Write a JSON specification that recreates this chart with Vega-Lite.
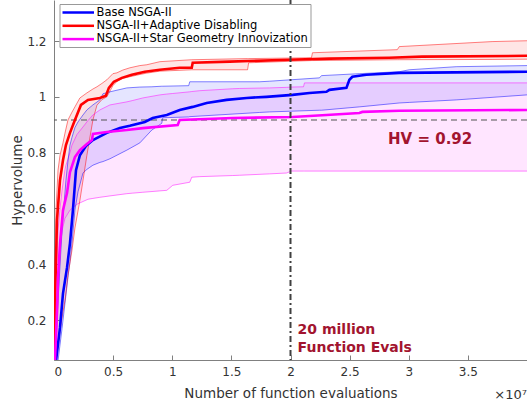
{
  "$schema": "https://vega.github.io/schema/vega-lite/v6.json",
  "width": 473,
  "height": 360,
  "autosize": {"type": "none"},
  "padding": {"left": 54, "top": 0, "right": 0, "bottom": 47},
  "datasets": {
    "mean": [
      {"method": "NSGA-II+Adaptive Disabling", "evals_M": 0, "hv": 0.03},
      {"method": "NSGA-II+Adaptive Disabling", "evals_M": 0.084, "hv": 0.27},
      {"method": "NSGA-II+Adaptive Disabling", "evals_M": 0.253, "hv": 0.558},
      {"method": "NSGA-II+Adaptive Disabling", "evals_M": 0.506, "hv": 0.701},
      {"method": "NSGA-II+Adaptive Disabling", "evals_M": 0.759, "hv": 0.773},
      {"method": "NSGA-II+Adaptive Disabling", "evals_M": 1.01, "hv": 0.827},
      {"method": "NSGA-II+Adaptive Disabling", "evals_M": 1.35, "hv": 0.871},
      {"method": "NSGA-II+Adaptive Disabling", "evals_M": 1.77, "hv": 0.917},
      {"method": "NSGA-II+Adaptive Disabling", "evals_M": 2.28, "hv": 0.971},
      {"method": "NSGA-II+Adaptive Disabling", "evals_M": 2.87, "hv": 0.989},
      {"method": "NSGA-II+Adaptive Disabling", "evals_M": 3.88, "hv": 0.996},
      {"method": "NSGA-II+Adaptive Disabling", "evals_M": 4.39, "hv": 1.004},
      {"method": "NSGA-II+Adaptive Disabling", "evals_M": 4.64, "hv": 1.032},
      {"method": "NSGA-II+Adaptive Disabling", "evals_M": 5.06, "hv": 1.054},
      {"method": "NSGA-II+Adaptive Disabling", "evals_M": 5.74, "hv": 1.068},
      {"method": "NSGA-II+Adaptive Disabling", "evals_M": 6.58, "hv": 1.079},
      {"method": "NSGA-II+Adaptive Disabling", "evals_M": 7.68, "hv": 1.09},
      {"method": "NSGA-II+Adaptive Disabling", "evals_M": 8.95, "hv": 1.097},
      {"method": "NSGA-II+Adaptive Disabling", "evals_M": 10.63, "hv": 1.104},
      {"method": "NSGA-II+Adaptive Disabling", "evals_M": 11.65, "hv": 1.104},
      {"method": "NSGA-II+Adaptive Disabling", "evals_M": 11.73, "hv": 1.122},
      {"method": "NSGA-II+Adaptive Disabling", "evals_M": 14.85, "hv": 1.126},
      {"method": "NSGA-II+Adaptive Disabling", "evals_M": 19.92, "hv": 1.133},
      {"method": "NSGA-II+Adaptive Disabling", "evals_M": 23.29, "hv": 1.137},
      {"method": "NSGA-II+Adaptive Disabling", "evals_M": 28.35, "hv": 1.14},
      {"method": "NSGA-II+Adaptive Disabling", "evals_M": 31.14, "hv": 1.144},
      {"method": "NSGA-II+Adaptive Disabling", "evals_M": 40, "hv": 1.147},
      {"method": "Base NSGA-II", "evals_M": 0, "hv": 0.0},
      {"method": "Base NSGA-II", "evals_M": 0.17, "hv": 0.054},
      {"method": "Base NSGA-II", "evals_M": 0.506, "hv": 0.173},
      {"method": "Base NSGA-II", "evals_M": 0.759, "hv": 0.295},
      {"method": "Base NSGA-II", "evals_M": 1.1, "hv": 0.388},
      {"method": "Base NSGA-II", "evals_M": 1.35, "hv": 0.475},
      {"method": "Base NSGA-II", "evals_M": 1.6, "hv": 0.594},
      {"method": "Base NSGA-II", "evals_M": 1.86, "hv": 0.737},
      {"method": "Base NSGA-II", "evals_M": 2.19, "hv": 0.791},
      {"method": "Base NSGA-II", "evals_M": 2.7, "hv": 0.824},
      {"method": "Base NSGA-II", "evals_M": 3.29, "hv": 0.845},
      {"method": "Base NSGA-II", "evals_M": 4.47, "hv": 0.871},
      {"method": "Base NSGA-II", "evals_M": 5.57, "hv": 0.888},
      {"method": "Base NSGA-II", "evals_M": 6.41, "hv": 0.896},
      {"method": "Base NSGA-II", "evals_M": 7.68, "hv": 0.91},
      {"method": "Base NSGA-II", "evals_M": 8.35, "hv": 0.924},
      {"method": "Base NSGA-II", "evals_M": 9.54, "hv": 0.935},
      {"method": "Base NSGA-II", "evals_M": 10.63, "hv": 0.953},
      {"method": "Base NSGA-II", "evals_M": 11.73, "hv": 0.964},
      {"method": "Base NSGA-II", "evals_M": 12.91, "hv": 0.978},
      {"method": "Base NSGA-II", "evals_M": 14.6, "hv": 0.989},
      {"method": "Base NSGA-II", "evals_M": 16.29, "hv": 0.996},
      {"method": "Base NSGA-II", "evals_M": 17.97, "hv": 1.0},
      {"method": "Base NSGA-II", "evals_M": 20.17, "hv": 1.007},
      {"method": "Base NSGA-II", "evals_M": 21.6, "hv": 1.014},
      {"method": "Base NSGA-II", "evals_M": 23.04, "hv": 1.018},
      {"method": "Base NSGA-II", "evals_M": 23.29, "hv": 1.025},
      {"method": "Base NSGA-II", "evals_M": 24.73, "hv": 1.032},
      {"method": "Base NSGA-II", "evals_M": 24.98, "hv": 1.061},
      {"method": "Base NSGA-II", "evals_M": 25.23, "hv": 1.072},
      {"method": "Base NSGA-II", "evals_M": 26.41, "hv": 1.079},
      {"method": "Base NSGA-II", "evals_M": 29.2, "hv": 1.086},
      {"method": "Base NSGA-II", "evals_M": 40, "hv": 1.09},
      {"method": "NSGA-II+Star Geometry Innovization", "evals_M": 0, "hv": 0.0},
      {"method": "NSGA-II+Star Geometry Innovization", "evals_M": 0.08, "hv": 0.054},
      {"method": "NSGA-II+Star Geometry Innovization", "evals_M": 0.25, "hv": 0.234},
      {"method": "NSGA-II+Star Geometry Innovization", "evals_M": 0.34, "hv": 0.353},
      {"method": "NSGA-II+Star Geometry Innovization", "evals_M": 0.51, "hv": 0.475},
      {"method": "NSGA-II+Star Geometry Innovization", "evals_M": 0.76, "hv": 0.594},
      {"method": "NSGA-II+Star Geometry Innovization", "evals_M": 1.1, "hv": 0.655},
      {"method": "NSGA-II+Star Geometry Innovization", "evals_M": 1.35, "hv": 0.73},
      {"method": "NSGA-II+Star Geometry Innovization", "evals_M": 1.77, "hv": 0.784},
      {"method": "NSGA-II+Star Geometry Innovization", "evals_M": 2.19, "hv": 0.809},
      {"method": "NSGA-II+Star Geometry Innovization", "evals_M": 2.78, "hv": 0.831},
      {"method": "NSGA-II+Star Geometry Innovization", "evals_M": 3.21, "hv": 0.845},
      {"method": "NSGA-II+Star Geometry Innovization", "evals_M": 3.29, "hv": 0.867},
      {"method": "NSGA-II+Star Geometry Innovization", "evals_M": 4.47, "hv": 0.874},
      {"method": "NSGA-II+Star Geometry Innovization", "evals_M": 6.16, "hv": 0.881},
      {"method": "NSGA-II+Star Geometry Innovization", "evals_M": 7.51, "hv": 0.888},
      {"method": "NSGA-II+Star Geometry Innovization", "evals_M": 10.46, "hv": 0.899},
      {"method": "NSGA-II+Star Geometry Innovization", "evals_M": 10.63, "hv": 0.917},
      {"method": "NSGA-II+Star Geometry Innovization", "evals_M": 15.11, "hv": 0.924},
      {"method": "NSGA-II+Star Geometry Innovization", "evals_M": 20.17, "hv": 0.928},
      {"method": "NSGA-II+Star Geometry Innovization", "evals_M": 23.04, "hv": 0.935},
      {"method": "NSGA-II+Star Geometry Innovization", "evals_M": 25.82, "hv": 0.942},
      {"method": "NSGA-II+Star Geometry Innovization", "evals_M": 26.08, "hv": 0.946},
      {"method": "NSGA-II+Star Geometry Innovization", "evals_M": 29.2, "hv": 0.95},
      {"method": "NSGA-II+Star Geometry Innovization", "evals_M": 40, "hv": 0.953}
    ],
    "band": [
      {"method": "NSGA-II+Star Geometry Innovization", "evals_M": 0, "lo": 0.0, "hi": 0.02},
      {"method": "NSGA-II+Star Geometry Innovization", "evals_M": 0.17, "lo": 0.06, "hi": 0.306},
      {"method": "NSGA-II+Star Geometry Innovization", "evals_M": 0.34, "lo": 0.25, "hi": 0.522},
      {"method": "NSGA-II+Star Geometry Innovization", "evals_M": 0.51, "lo": 0.44, "hi": 0.6},
      {"method": "NSGA-II+Star Geometry Innovization", "evals_M": 0.68, "lo": 0.52, "hi": 0.665},
      {"method": "NSGA-II+Star Geometry Innovization", "evals_M": 0.93, "lo": 0.565, "hi": 0.74},
      {"method": "NSGA-II+Star Geometry Innovization", "evals_M": 1.01, "lo": 0.57, "hi": 0.755},
      {"method": "NSGA-II+Star Geometry Innovization", "evals_M": 1.35, "lo": 0.594, "hi": 0.8},
      {"method": "NSGA-II+Star Geometry Innovization", "evals_M": 1.52, "lo": 0.6, "hi": 0.827},
      {"method": "NSGA-II+Star Geometry Innovization", "evals_M": 1.94, "lo": 0.615, "hi": 0.865},
      {"method": "NSGA-II+Star Geometry Innovization", "evals_M": 2.45, "lo": 0.625, "hi": 0.892},
      {"method": "NSGA-II+Star Geometry Innovization", "evals_M": 2.87, "lo": 0.633, "hi": 0.915},
      {"method": "NSGA-II+Star Geometry Innovization", "evals_M": 3.29, "lo": 0.636, "hi": 0.935},
      {"method": "NSGA-II+Star Geometry Innovization", "evals_M": 3.88, "lo": 0.64, "hi": 0.953},
      {"method": "NSGA-II+Star Geometry Innovization", "evals_M": 4.73, "lo": 0.645, "hi": 0.971},
      {"method": "NSGA-II+Star Geometry Innovization", "evals_M": 6.16, "lo": 0.653, "hi": 0.982},
      {"method": "NSGA-II+Star Geometry Innovization", "evals_M": 6.67, "lo": 0.655, "hi": 0.987},
      {"method": "NSGA-II+Star Geometry Innovization", "evals_M": 7.51, "lo": 0.658, "hi": 0.996},
      {"method": "NSGA-II+Star Geometry Innovization", "evals_M": 8.95, "lo": 0.663, "hi": 1.007},
      {"method": "NSGA-II+Star Geometry Innovization", "evals_M": 9.54, "lo": 0.665, "hi": 1.01},
      {"method": "NSGA-II+Star Geometry Innovization", "evals_M": 10.04, "lo": 0.683, "hi": 1.012},
      {"method": "NSGA-II+Star Geometry Innovization", "evals_M": 11.48, "lo": 0.694, "hi": 1.018},
      {"method": "NSGA-II+Star Geometry Innovization", "evals_M": 11.65, "lo": 0.712, "hi": 1.019},
      {"method": "NSGA-II+Star Geometry Innovization", "evals_M": 12.32, "lo": 0.714, "hi": 1.022},
      {"method": "NSGA-II+Star Geometry Innovization", "evals_M": 15.11, "lo": 0.718, "hi": 1.029},
      {"method": "NSGA-II+Star Geometry Innovization", "evals_M": 15.7, "lo": 0.719, "hi": 1.03},
      {"method": "NSGA-II+Star Geometry Innovization", "evals_M": 18.23, "lo": 0.724, "hi": 1.032},
      {"method": "NSGA-II+Star Geometry Innovization", "evals_M": 19.66, "lo": 0.727, "hi": 1.034},
      {"method": "NSGA-II+Star Geometry Innovization", "evals_M": 20.08, "lo": 0.734, "hi": 1.035},
      {"method": "NSGA-II+Star Geometry Innovization", "evals_M": 21.1, "lo": 0.734, "hi": 1.036},
      {"method": "NSGA-II+Star Geometry Innovization", "evals_M": 21.18, "lo": 0.734, "hi": 1.05},
      {"method": "NSGA-II+Star Geometry Innovization", "evals_M": 40, "lo": 0.734, "hi": 1.05},
      {"method": "Base NSGA-II", "evals_M": 0, "lo": 0.0, "hi": 0.0},
      {"method": "Base NSGA-II", "evals_M": 0.34, "lo": 0.054, "hi": 0.27},
      {"method": "Base NSGA-II", "evals_M": 0.68, "lo": 0.17, "hi": 0.522},
      {"method": "Base NSGA-II", "evals_M": 1.01, "lo": 0.29, "hi": 0.701},
      {"method": "Base NSGA-II", "evals_M": 1.18, "lo": 0.353, "hi": 0.77},
      {"method": "Base NSGA-II", "evals_M": 1.35, "lo": 0.41, "hi": 0.827},
      {"method": "Base NSGA-II", "evals_M": 1.52, "lo": 0.475, "hi": 0.855},
      {"method": "Base NSGA-II", "evals_M": 1.77, "lo": 0.594, "hi": 0.89},
      {"method": "Base NSGA-II", "evals_M": 2.03, "lo": 0.66, "hi": 0.91},
      {"method": "Base NSGA-II", "evals_M": 2.45, "lo": 0.727, "hi": 0.935},
      {"method": "Base NSGA-II", "evals_M": 2.78, "lo": 0.74, "hi": 0.953},
      {"method": "Base NSGA-II", "evals_M": 3.29, "lo": 0.755, "hi": 0.971},
      {"method": "Base NSGA-II", "evals_M": 3.88, "lo": 0.765, "hi": 0.989},
      {"method": "Base NSGA-II", "evals_M": 4.14, "lo": 0.768, "hi": 1.011},
      {"method": "Base NSGA-II", "evals_M": 4.73, "lo": 0.778, "hi": 1.018},
      {"method": "Base NSGA-II", "evals_M": 6.16, "lo": 0.809, "hi": 1.032},
      {"method": "Base NSGA-II", "evals_M": 7.26, "lo": 0.835, "hi": 1.035},
      {"method": "Base NSGA-II", "evals_M": 8.27, "lo": 0.881, "hi": 1.036},
      {"method": "Base NSGA-II", "evals_M": 9.11, "lo": 0.905, "hi": 1.038},
      {"method": "Base NSGA-II", "evals_M": 9.2, "lo": 0.925, "hi": 1.038},
      {"method": "Base NSGA-II", "evals_M": 11.39, "lo": 0.928, "hi": 1.04},
      {"method": "Base NSGA-II", "evals_M": 11.48, "lo": 0.929, "hi": 1.054},
      {"method": "Base NSGA-II", "evals_M": 17.38, "lo": 0.944, "hi": 1.054},
      {"method": "Base NSGA-II", "evals_M": 18.23, "lo": 0.946, "hi": 1.056},
      {"method": "Base NSGA-II", "evals_M": 22.45, "lo": 0.952, "hi": 1.068},
      {"method": "Base NSGA-II", "evals_M": 22.62, "lo": 0.952, "hi": 1.076},
      {"method": "Base NSGA-II", "evals_M": 25.82, "lo": 0.964, "hi": 1.083},
      {"method": "Base NSGA-II", "evals_M": 29.2, "lo": 0.978, "hi": 1.09},
      {"method": "Base NSGA-II", "evals_M": 30.04, "lo": 0.98, "hi": 1.097},
      {"method": "Base NSGA-II", "evals_M": 34.01, "lo": 0.989, "hi": 1.108},
      {"method": "Base NSGA-II", "evals_M": 40, "lo": 1.007, "hi": 1.112},
      {"method": "NSGA-II+Adaptive Disabling", "evals_M": 0, "lo": 0.0, "hi": 0.03},
      {"method": "NSGA-II+Adaptive Disabling", "evals_M": 0.08, "lo": 0.01, "hi": 0.414},
      {"method": "NSGA-II+Adaptive Disabling", "evals_M": 0.17, "lo": 0.054, "hi": 0.594},
      {"method": "NSGA-II+Adaptive Disabling", "evals_M": 0.34, "lo": 0.11, "hi": 0.737},
      {"method": "NSGA-II+Adaptive Disabling", "evals_M": 0.51, "lo": 0.16, "hi": 0.791},
      {"method": "NSGA-II+Adaptive Disabling", "evals_M": 0.76, "lo": 0.23, "hi": 0.835},
      {"method": "NSGA-II+Adaptive Disabling", "evals_M": 0.93, "lo": 0.27, "hi": 0.87},
      {"method": "NSGA-II+Adaptive Disabling", "evals_M": 1.18, "lo": 0.36, "hi": 0.917},
      {"method": "NSGA-II+Adaptive Disabling", "evals_M": 1.52, "lo": 0.45, "hi": 0.945},
      {"method": "NSGA-II+Adaptive Disabling", "evals_M": 1.77, "lo": 0.53, "hi": 0.964},
      {"method": "NSGA-II+Adaptive Disabling", "evals_M": 2.19, "lo": 0.629, "hi": 0.996},
      {"method": "NSGA-II+Adaptive Disabling", "evals_M": 2.78, "lo": 0.79, "hi": 1.014},
      {"method": "NSGA-II+Adaptive Disabling", "evals_M": 3.29, "lo": 0.917, "hi": 1.028},
      {"method": "NSGA-II+Adaptive Disabling", "evals_M": 3.63, "lo": 0.97, "hi": 1.036},
      {"method": "NSGA-II+Adaptive Disabling", "evals_M": 4.05, "lo": 0.99, "hi": 1.048},
      {"method": "NSGA-II+Adaptive Disabling", "evals_M": 4.47, "lo": 1.0, "hi": 1.061},
      {"method": "NSGA-II+Adaptive Disabling", "evals_M": 4.98, "lo": 1.04, "hi": 1.083},
      {"method": "NSGA-II+Adaptive Disabling", "evals_M": 5.32, "lo": 1.055, "hi": 1.086},
      {"method": "NSGA-II+Adaptive Disabling", "evals_M": 5.82, "lo": 1.066, "hi": 1.096},
      {"method": "NSGA-II+Adaptive Disabling", "evals_M": 6.41, "lo": 1.072, "hi": 1.104},
      {"method": "NSGA-II+Adaptive Disabling", "evals_M": 7.26, "lo": 1.08, "hi": 1.112},
      {"method": "NSGA-II+Adaptive Disabling", "evals_M": 7.85, "lo": 1.085, "hi": 1.115},
      {"method": "NSGA-II+Adaptive Disabling", "evals_M": 8.95, "lo": 1.092, "hi": 1.126},
      {"method": "NSGA-II+Adaptive Disabling", "evals_M": 11.65, "lo": 1.097, "hi": 1.133},
      {"method": "NSGA-II+Adaptive Disabling", "evals_M": 16.37, "lo": 1.097, "hi": 1.137},
      {"method": "NSGA-II+Adaptive Disabling", "evals_M": 16.46, "lo": 1.122, "hi": 1.137},
      {"method": "NSGA-II+Adaptive Disabling", "evals_M": 21.77, "lo": 1.13, "hi": 1.14},
      {"method": "NSGA-II+Adaptive Disabling", "evals_M": 21.86, "lo": 1.13, "hi": 1.158},
      {"method": "NSGA-II+Adaptive Disabling", "evals_M": 29.03, "lo": 1.133, "hi": 1.169},
      {"method": "NSGA-II+Adaptive Disabling", "evals_M": 29.2, "lo": 1.133, "hi": 1.18},
      {"method": "NSGA-II+Adaptive Disabling", "evals_M": 37.05, "lo": 1.134, "hi": 1.198},
      {"method": "NSGA-II+Adaptive Disabling", "evals_M": 40, "lo": 1.135, "hi": 1.201}
    ],
    "hvref": [{"hv": 0.917}],
    "evref": [{"evals_M": 20}],
    "hvlabel": [{"label": "HV = 0.92", "evals_M": 28.25, "hv": 0.85}],
    "evlabel": [
      {"label": "20 million", "evals_M": 20.6, "hv": 0.165},
      {"label": "Function Evals", "evals_M": 20.6, "hv": 0.101}
    ],
    "exponent": [{"label": "×10⁷", "evals_M": 40, "hv": -0.067}]
  },
  "layer": [
    {
      "data": {"name": "band"},
      "mark": {"type": "area", "clip": true, "fillOpacity": 0.1},
      "encoding": {
        "x": {"field": "evals_M", "type": "quantitative", "scale": {"domain": [0, 40], "nice": false, "zero": false},
          "axis": {"values": [0, 5, 10, 15, 20, 25, 30, 35], "labelExpr": "datum.value / 10", "title": "Number of function evaluations", "tickSize": -5, "labelPadding": 11, "titlePadding": 9}},
        "y": {"field": "lo", "type": "quantitative", "scale": {"domain": [0.057, 1.347], "nice": false, "zero": false},
          "axis": {"values": [0.2, 0.4, 0.6, 0.8, 1, 1.2], "format": "~g", "title": "Hypervolume", "tickSize": -5, "labelPadding": 13, "titlePadding": 2}},
        "y2": {"field": "hi"},
        "fill": {"field": "method", "type": "nominal", "legend": null,
          "scale": {"domain": ["NSGA-II+Star Geometry Innovization", "Base NSGA-II", "NSGA-II+Adaptive Disabling"], "range": ["#FF00FF", "#0000FF", "#FF0000"]}}
      }
    },
    {
      "data": {"name": "band"},
      "mark": {"type": "line", "clip": true, "strokeWidth": 0.9, "opacity": 0.55},
      "encoding": {
        "x": {"field": "evals_M", "type": "quantitative"},
        "y": {"field": "lo", "type": "quantitative"},
        "stroke": {"field": "method", "type": "nominal", "legend": null,
          "scale": {"domain": ["NSGA-II+Adaptive Disabling", "NSGA-II+Star Geometry Innovization", "Base NSGA-II"], "range": ["#FF0000", "#FF00FF", "#0000FF"]}}
      }
    },
    {
      "data": {"name": "band"},
      "mark": {"type": "line", "clip": true, "strokeWidth": 0.9, "opacity": 0.55},
      "encoding": {
        "x": {"field": "evals_M", "type": "quantitative"},
        "y": {"field": "hi", "type": "quantitative"},
        "stroke": {"field": "method", "type": "nominal", "legend": null}
      }
    },
    {
      "data": {"name": "hvref"},
      "mark": {"type": "rule", "color": "#555555", "strokeWidth": 1.2, "strokeDash": [6, 4]},
      "encoding": {"y": {"field": "hv", "type": "quantitative"}}
    },
    {
      "data": {"name": "mean"},
      "mark": {"type": "line", "clip": true, "strokeWidth": 2.6},
      "encoding": {
        "x": {"field": "evals_M", "type": "quantitative"},
        "y": {"field": "hv", "type": "quantitative"},
        "color": {"field": "method", "type": "nominal",
          "scale": {"domain": ["Base NSGA-II", "NSGA-II+Adaptive Disabling", "NSGA-II+Star Geometry Innovization"], "range": ["#0000FF", "#FF0000", "#FF00FF"]},
          "legend": {"title": null, "orient": "none", "legendX": 5.5, "legendY": 4, "symbolType": "M-1.1,0H5.2", "symbolSize": 100, "symbolStrokeWidth": 2.5, "labelFontSize": 11.5, "labelColor": "#000000", "labelOffset": 22, "padding": 2, "strokeColor": "#999999", "fillColor": "#ffffff", "rowPadding": 1.3, "cornerRadius": 0, "labelLimit": 400}}
      }
    },
    {
      "data": {"name": "evref"},
      "mark": {"type": "rule", "color": "#404040", "strokeWidth": 2, "strokeDash": [6, 3, 2, 3]},
      "encoding": {"x": {"field": "evals_M", "type": "quantitative"}}
    },
    {
      "data": {"name": "hvlabel"},
      "mark": {"type": "text", "align": "left", "baseline": "middle", "fontSize": 15, "fontWeight": "bold", "color": "#A2142F"},
      "encoding": {
        "x": {"field": "evals_M", "type": "quantitative"},
        "y": {"field": "hv", "type": "quantitative"},
        "text": {"field": "label"}
      }
    },
    {
      "data": {"name": "evlabel"},
      "mark": {"type": "text", "align": "left", "baseline": "middle", "fontSize": 14, "fontWeight": "bold", "color": "#A2142F"},
      "encoding": {
        "x": {"field": "evals_M", "type": "quantitative"},
        "y": {"field": "hv", "type": "quantitative"},
        "text": {"field": "label"}
      }
    },
    {
      "data": {"name": "exponent"},
      "mark": {"type": "text", "align": "right", "baseline": "middle", "fontSize": 13, "color": "#333333", "clip": false},
      "encoding": {
        "x": {"field": "evals_M", "type": "quantitative"},
        "y": {"field": "hv", "type": "quantitative"},
        "text": {"field": "label"}
      }
    }
  ],
  "config": {
    "view": {"stroke": null},
    "font": "DejaVu Sans",
    "axis": {"grid": false, "domainColor": "#808080", "tickColor": "#808080", "labelColor": "#333333", "titleColor": "#333333", "labelFontSize": 12, "titleFontSize": 13.5, "titleFontWeight": "normal", "labelFont": "DejaVu Sans", "titleFont": "DejaVu Sans"},
    "legend": {"labelFont": "DejaVu Sans"},
    "text": {"font": "DejaVu Sans"}
  }
}
